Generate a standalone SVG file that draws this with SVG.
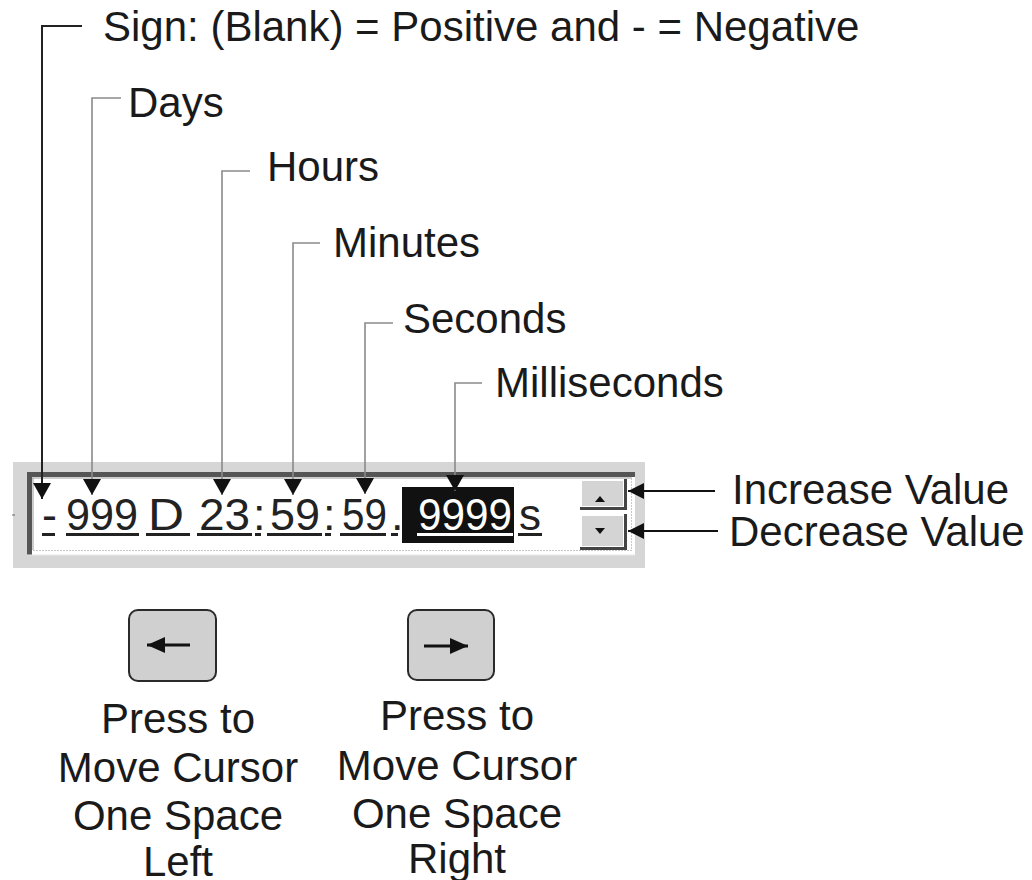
<svg xmlns="http://www.w3.org/2000/svg" width="1032" height="880" viewBox="0 0 1032 880">
<style>
.lbl{font-family:"Liberation Sans",Arial,sans-serif;font-size:42px;fill:#1a1a1a}
.mid{text-anchor:middle}
.lcd{font-family:"Liberation Sans",Arial,sans-serif;font-size:45px;fill:#222}
.ul{fill:#222}
.lead{fill:none;stroke:#8a8a8a;stroke-width:1.6}
.lead-dark{fill:none;stroke:#222;stroke-width:2}
.ptr{fill:none;stroke:#111;stroke-width:2}
.key{fill:#d0d0d0;stroke:#2a2a2a;stroke-width:2}
</style>
<defs>
<marker id="ah" markerUnits="userSpaceOnUse" markerWidth="16" markerHeight="18" refX="16" refY="9" orient="auto">
<path d="M0,0 L16,9 L0,18 z" fill="#111"/>
</marker>
<marker id="ahs" markerUnits="userSpaceOnUse" markerWidth="16" markerHeight="16" refX="16" refY="8" orient="auto">
<path d="M0,0 L16,8 L0,16 z" fill="#111"/>
</marker>
<marker id="kh" markerUnits="userSpaceOnUse" markerWidth="18" markerHeight="16" refX="18" refY="8" orient="auto">
<path d="M0,0 L18,8 L0,16 z" fill="#111"/>
</marker>
</defs>
<rect width="1032" height="880" fill="#ffffff"/>

<g id="widget">
<rect x="13" y="462" width="632" height="106" fill="#d6d6d6"/>
<line x1="12" y1="515" x2="15" y2="515" stroke="#666" stroke-width="1"/>
<rect x="27" y="472" width="608" height="83" fill="#ffffff"/>
<rect x="27" y="472" width="608" height="5" fill="#555"/>
<rect x="27" y="472" width="5" height="83" fill="#555"/>
<line x1="32" y1="478" x2="632" y2="478" stroke="#9a9a9a" stroke-width="1"/>
<line x1="33" y1="478" x2="33" y2="550" stroke="#9a9a9a" stroke-width="1"/>
<line x1="33" y1="550.5" x2="632" y2="550.5" stroke="#c8c8c8" stroke-width="1" stroke-dasharray="2 1"/>
<line x1="631.5" y1="478" x2="631.5" y2="551" stroke="#c8c8c8" stroke-width="1" stroke-dasharray="2 1"/>
<line x1="27" y1="555" x2="635" y2="555" stroke="#e8e8e8" stroke-width="1"/>
<rect x="402" y="487" width="112" height="56" fill="#111"/>
<text class="lcd" x="42" y="530">-</text>
<text class="lcd" x="66" y="530" textLength="72" lengthAdjust="spacingAndGlyphs">999</text>
<text class="lcd" x="148" y="530" textLength="36" lengthAdjust="spacingAndGlyphs">D</text>
<text class="lcd" x="199" y="530" textLength="51" lengthAdjust="spacingAndGlyphs">23</text>
<text class="lcd" x="253" y="530">:</text>
<text class="lcd" x="270" y="530" textLength="50" lengthAdjust="spacingAndGlyphs">59</text>
<text class="lcd" x="323" y="530">:</text>
<text class="lcd" x="342" y="530" textLength="45" lengthAdjust="spacingAndGlyphs">59</text>
<text class="lcd" x="391" y="530">.</text>
<text class="lcd" x="418" y="530" textLength="94" lengthAdjust="spacingAndGlyphs" style="fill:#ffffff">9999</text>
<text class="lcd" x="519" y="530" textLength="22" lengthAdjust="spacingAndGlyphs">s</text>
<rect class="ul" x="42" y="533" width="13" height="3"/>
<rect class="ul" x="66" y="533" width="73" height="3"/>
<rect class="ul" x="146" y="533" width="44" height="3"/>
<rect class="ul" x="197" y="533" width="55" height="3"/>
<rect class="ul" x="255" y="533" width="6" height="3"/>
<rect class="ul" x="267" y="533" width="55" height="3"/>
<rect class="ul" x="325" y="533" width="6" height="3"/>
<rect class="ul" x="340" y="533" width="46" height="3"/>
<rect class="ul" x="391" y="533" width="7" height="3"/>
<rect x="417" y="533" width="96" height="3" fill="#ffffff"/>
<rect class="ul" x="518" y="533" width="24" height="3"/>
</g>

<g id="spin-up">
<rect x="580" y="479" width="47" height="31" fill="#444"/>
<rect x="580" y="479" width="44" height="28" fill="#ffffff"/>
<rect x="582" y="481" width="41" height="25" fill="#d4d4d4"/>
<path d="M595,502 L605,502 L600,496 z" fill="#111"/>
</g>
<g id="spin-down">
<rect x="580" y="514" width="47" height="36" fill="#444"/>
<rect x="580" y="514" width="44" height="33" fill="#ffffff"/>
<rect x="582" y="516" width="41" height="30" fill="#d4d4d4"/>
<path d="M595,528 L605,528 L600,534 z" fill="#111"/>
</g>

<g id="label-sign"><text class="lbl" x="103" y="41">Sign: (Blank) = Positive and - = Negative</text></g>
<g id="label-days"><text class="lbl" x="128" y="117">Days</text></g>
<g id="label-hours"><text class="lbl" x="267" y="181">Hours</text></g>
<g id="label-minutes"><text class="lbl" x="333" y="257">Minutes</text></g>
<g id="label-seconds"><text class="lbl" x="403" y="333">Seconds</text></g>
<g id="label-ms"><text class="lbl" x="495" y="397">Milliseconds</text></g>
<g id="label-inc"><text class="lbl" x="732" y="504">Increase Value</text></g>
<g id="label-dec"><text class="lbl" x="729" y="546">Decrease Value</text></g>

<g id="key-left">
<rect class="key" x="129" y="610" width="87" height="71" rx="9"/>
<line x1="190" y1="645" x2="147" y2="645" stroke="#111" stroke-width="3" marker-end="url(#kh)"/>
<text class="lbl mid" x="178" y="733">Press to</text>
<text class="lbl mid" x="178" y="782">Move Cursor</text>
<text class="lbl mid" x="178" y="830">One Space</text>
<text class="lbl mid" x="178" y="876">Left</text>
</g>
<g id="key-right">
<rect class="key" x="408" y="610" width="86" height="70" rx="9"/>
<line x1="424" y1="646" x2="468" y2="646" stroke="#111" stroke-width="3" marker-end="url(#kh)"/>
<text class="lbl mid" x="457" y="730">Press to</text>
<text class="lbl mid" x="457" y="780">Move Cursor</text>
<text class="lbl mid" x="457" y="828">One Space</text>
<text class="lbl mid" x="457" y="873">Right</text>
</g>

<g id="connectors">
<path class="lead-dark" d="M82,26 H42 V499" marker-end="url(#ah)"/>
<path class="lead" d="M121,98 H92 V495" marker-end="url(#ah)"/>
<path class="lead" d="M250,171 H222 V495" marker-end="url(#ah)"/>
<path class="lead" d="M320,243 H293 V495" marker-end="url(#ah)"/>
<path class="lead" d="M393,323 H365 V494" marker-end="url(#ah)"/>
<path class="lead" d="M482,383 H455 V491" marker-end="url(#ah)"/>
<path class="ptr" d="M715,491 H628" marker-end="url(#ahs)"/>
<path class="ptr" d="M718,531 H628" marker-end="url(#ahs)"/>
</g>
</svg>
